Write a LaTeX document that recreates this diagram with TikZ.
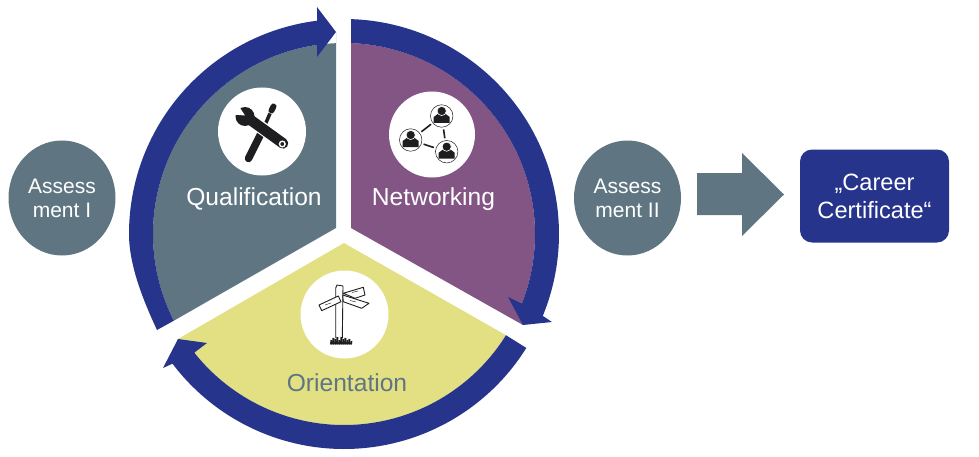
\documentclass[tikz,border=0pt]{standalone}
\usepackage{fontspec}
\setmainfont{Liberation Sans}
\usetikzlibrary{calc, positioning, shapes.geometric}
\definecolor{color_slate}{HTML}{5F7682}
\definecolor{color_plum}{HTML}{835584}
\definecolor{color_straw}{HTML}{E2E083}
\definecolor{color_navy}{HTML}{27348B}
\definecolor{color_ink}{HTML}{1E1E20}
\tikzset{
  wheel_band/.style={fill=color_navy},
  wheel_label/.style={font=\fontsize{24.6}{28}\selectfont, text=white, inner sep=0pt},
  icon_disc/.style={circle, fill=white, inner sep=0pt},
  assess_node/.style={ellipse, fill=color_slate, text=white, inner sep=0pt, minimum width=107, minimum height=115, align=center, font=\fontsize{21}{24}\selectfont},
  certificate_node/.style={rectangle, rounded corners=12pt, fill=color_navy, text=white, inner sep=0pt, minimum width=149, minimum height=93, align=center, font=\fontsize{23.6}{28}\selectfont},
  person_ring/.style={circle, draw=color_ink, line width=0.5pt, fill=white, inner sep=0pt, minimum size=22.5},
  person_link/.style={draw=color_ink, line width=1.6pt, shorten >=2pt, shorten <=2pt},
  post_line/.style={draw=color_ink, line width=0.9pt, fill=white, line join=round},
}
\begin{document}
\begin{tikzpicture}[x=1pt, y=1pt]
    \useasboundingbox (0,0) rectangle (979,456);
    \begin{scope}[shift={(344,222)}]
      % Three sectors
      \fill[color_slate] (-8,6) -- (207:191) arc[start angle=207, end angle=92.4, radius=191] -- (-8,202) -- cycle;
      \fill[color_plum] (7,6) -- (87.9:191) arc[start angle=87.9, end angle=-21.4, radius=191] -- (179,-91) -- cycle;
      \fill[color_straw] (0,-9) -- (-32:191) arc[start angle=-32, end angle=-141.6, radius=191] -- (-166,-105) -- cycle;
      % Arrow bands
      \fill[wheel_band] (-187,-96) .. controls (-200,-68) and (-215,-32) .. (180:215) arc[start angle=180, end angle=97.2, radius=215] -- (-27,227) -- (-8,202) -- (-27,177) -- (98.1:191) arc[start angle=98.1, end angle=207, radius=191] -- cycle;
      \fill[wheel_band] (88.1:215) arc[start angle=88.1, end angle=-22.4, radius=215] -- (208,-88) -- (179,-91) -- (164,-63) -- (-21.4:191) arc[start angle=-21.4, end angle=87.9, radius=191] -- cycle;
      \fill[wheel_band] (-32:215) arc[start angle=-32, end angle=-142.9, radius=215] -- (-181,-134) -- (-166,-105) -- (-137,-109) -- (-141.6:191) arc[start angle=-141.6, end angle=-32, radius=191] -- cycle;
    \end{scope}
    \node[icon_disc, minimum size=88] (tools_disc) at (262,324.5) {};
    \node[icon_disc, minimum size=86] (people_disc) at (432,321.5) {};
    \node[icon_disc, minimum size=88] (post_disc) at (344.5,141.5) {};
    % Crossed tools
    \begin{scope}[shift={(tools_disc.center)}]
      \draw[color_ink, line width=7.5pt, line cap=round] (-13.5,-27) -- (1,2);
      \draw[color_ink, line width=3.5pt] (1,2) -- (8,18);
      \draw[color_ink, line width=6pt, line cap=round] (9.5,21) -- (11.5,25);
      \draw[white, line width=13pt] (-13,12.7) -- (21,-11.5);
      \draw[color_ink, line width=10.5pt, line cap=round] (-13.7,13.2) -- (21,-11.9);
      \fill[color_ink] (-17,15) circle (9.5);
      \fill[white] (-23.5,26) -- (-29,17) -- (-17,16) -- cycle;
      \draw[white, line width=1.4pt] (20.3,-12.5) circle (2.8);
    \end{scope}
    % People network
    \foreach \name/\px/\py in {person_top/441.7/340, person_left/410.7/316, person_low/446.7/304.3}{
      \node[person_ring] (\name) at (\px,\py) {};
      \fill[color_ink] (\px-4,\py+2) -- (\px+4,\py+2) -- (\px+8,\py-1) -- (\px+8,\py-7) -- (\px-8,\py-7) -- (\px-8,\py-1) -- cycle;
      \fill[color_ink, draw=white, line width=0.6pt] (\px,\py+5) circle (4.6);
    }
    \draw[person_link] (person_top) -- (person_left);
    \draw[person_link] (person_left) -- (person_low);
    \draw[person_link] (person_low) -- (person_top);
    % Signpost
    \draw[post_line] (335.7,118) -- (335.7,168) -- (337,171) -- (343,170) -- (342.3,118);
    \draw[post_line] (319,151) -- (338.3,160) -- (341,154.3) -- (321.7,145.3) -- cycle;
    \draw[post_line] (343.3,162.7) -- (363.3,168.7) -- (365,161) -- (355,157.7) -- cycle;
    \draw[post_line] (342.7,161) -- (369,152.7) -- (361.7,147.7) -- (343.3,154.3) -- cycle;
    \draw[color_ink, line width=0.4pt] (325,151) -- (331,153);
    \draw[color_ink, line width=0.4pt] (350,155.5) -- (356,154);
    \draw[color_ink, line width=0.4pt] (352,163.5) -- (358,165);
    \foreach \gx/\gy in {331/116, 333/118, 335/117, 337/119, 339/116, 341/119, 343/117, 345/118, 347/116, 349/117, 351/115}{
      \draw[color_ink, line width=1.9pt] (\gx,111.5) -- (\gx+0.4,\gy);
    }
    % Labels
    \node[wheel_label] (qualification) at (254,257) {Qualification};
    \node[wheel_label] (networking) at (433.5,256.5) {Networking};
    \node[wheel_label, text=color_slate] (orientation) at (347,73) {Orientation};
    \node[assess_node] (assess_one) at (62,258) {Assess\\ment I};
    \node[assess_node] (assess_two) at (627.5,258) {Assess\\ment II};
    \fill[color_slate] (697,283) -- (742,283) -- (742,303) -- (784,261.5) -- (742,220) -- (742,241) -- (697,241) -- cycle;
    \node[certificate_node] (certificate) at (874.5,260) {„Career\\Certificate“};
  \end{tikzpicture}
\end{document}
